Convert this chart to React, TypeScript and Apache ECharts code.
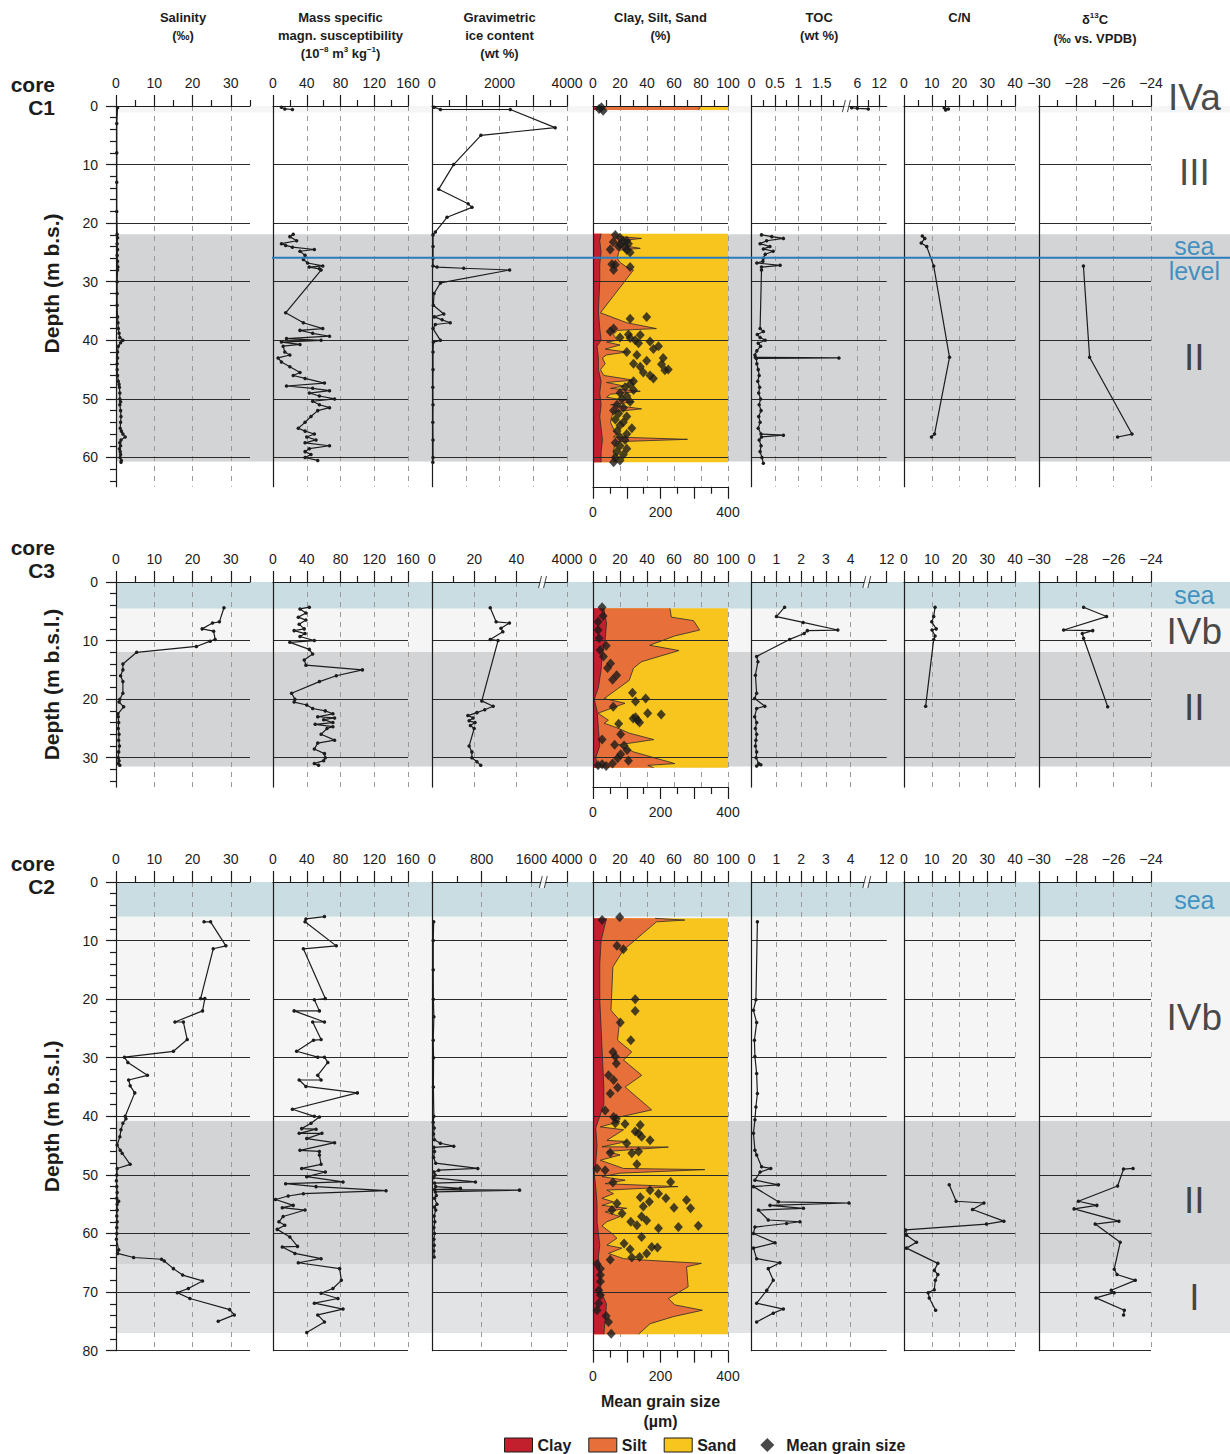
import React, { useEffect, useRef } from 'react';
import * as echarts from 'echarts';

// ======================= DATA (depth m, value) =======================
// ---- core C1 ----
const C1_SALINITY = [[0.3,0.4],[3,0.2],[8,0.2],[13,0.2],[18,0.2],[21.9,0.3],[22.5,0.4],[23.5,0.3],[24.5,0.4],[25.5,0.3],[26.5,0.4],[27.5,0.5],[28,0.4],[30,0.3],[32,0.3],[34,0.3],[36,0.4],[37,0.5],[38,0.6],[38.8,0.8],[39.5,1.0],[40,1.8],[40.4,1.2],[41,0.6],[42,0.4],[43,0.4],[44,0.3],[45,0.3],[46,0.4],[47,0.6],[47.5,0.8],[48,0.9],[49,1.0],[50,1.0],[50.5,1.2],[51,1.0],[52,1.2],[53,1.3],[54,1.2],[55,1.1],[55.5,1.4],[56,1.8],[56.5,2.4],[57,1.3],[57.5,1.0],[58,1.2],[58.5,0.9],[59,1.1],[59.5,1.2],[60,1.1],[60.5,1.4],[60.8,1.3]];
const C1_MAGSUS = [[0.2,10],[0.5,14],[0.6,23],null,[21.9,24],[22.3,20],[23,28],[23.5,10],[23.8,15],[24.1,23],[24.5,49],[24.8,32],[25.5,38],[26.2,36],[26.8,41],[27.3,59],[27.5,43],[27.8,55],[28,57],[35.3,15],[37,36],[38,59],[38.3,32],[38.8,47],[39.3,67],[39.7,16],[40,57],[40.3,10],[40.7,32],[41,12],[42,14],[42.5,20],[43,6],[43.7,10],[44.5,20],[45.5,32],[46,24],[46.5,38],[47.3,61],[47.8,16],[48.2,47],[48.6,67],[49,43],[49.5,55],[50,73],[50.4,47],[51,55],[51.5,67],[52,53],[53,45],[54,38],[55,30],[55.5,38],[56,49],[56.5,40],[57,51],[57.5,38],[58,67],[58.5,43],[59,38],[59.5,45],[60,38],[60.5,53]];
const C1_ICE = [[0.2,60],[0.6,250],[0.6,2320],[3.7,3650],[5,1450],[10,640],[14.2,200],[16.7,1070],[17.3,1185],[19,445],[21.5,100],[22,30],[24,30],[26,30],[27.3,30],[27.5,150],[27.7,940],[28,2300],[30.2,250],[32,60],[34,40],[35.5,350],[36,70],[36.5,300],[37,540],[37.3,100],[38,30],[40,250],[40.3,40],[42,30],[45,30],[48,25],[51,30],[54,25],[57,30],[60,30],[60.8,25]];
const C1_CLAY_TOP = [[0,6],[0.7,6]];
const C1_FINES_TOP = [[0,80],[0.7,78]];
const C1_CLAY = [[21.8,6],[23,5],[25,6],[27,5],[30,5],[35,4],[38,5],[40,6],[41,3],[43,4],[45,4],[47,6],[49,5],[51,6],[53,5],[55,6],[57,7],[59,6],[60.8,6]];
const C1_FINES = [[21.8,16],[22.3,20],[22.6,36],[23,20],[23.5,23],[24,27],[24.3,35],[24.6,20],[25,19],[26,18],[26.7,20],[27.5,25],[28,30],[35.3,5.5],[37,25],[38,47],[38.3,18],[39,15],[40,18],[40.3,10],[40.8,20],[41.5,9],[42,25],[42.5,10],[43,7],[44,9],[45,5.5],[46,8],[46.8,30],[47.2,10],[47.8,23],[48.2,13],[48.7,35],[49.2,13],[49.7,10],[50.5,30],[51,13],[51.7,36],[52.2,15],[53,14],[54,13],[55,15],[56,18],[56.5,15],[56.9,70],[57.3,18],[58,16],[59,15],[60,16],[60.8,18]];
const C1_GRAIN = [[0.2,25],[0.5,18],[0.8,30],[22,66],[22.5,80],[23,100],[23.1,90],[23.2,60],[23.5,105],[23.6,80],[24,76],[24.1,95],[24.5,51],[24.6,100],[25,110],[27,56],[27.1,66],[27.5,110],[28,61],[36,159],[36.3,110],[38,61],[38.5,51],[39,105],[39.1,140],[39.5,80],[39.6,110],[40,125],[40.2,169],[40.5,135],[41,194],[41.5,179],[42,100],[42.5,130],[43,208],[43.5,159],[44,120],[44.1,203],[44.5,140],[45,223],[45.1,213],[45.5,149],[46,169],[46.5,179],[47,120],[47.5,110],[48,95],[48.5,120],[49,80],[49.5,100],[50,85],[50.5,110],[51,71],[51.5,90],[52,61],[52.5,76],[53,100],[53.5,66],[54,90],[54.5,80],[55,115],[55.5,71],[56,100],[56.5,80],[57,95],[57.5,66],[58,80],[58.5,100],[59,71],[59.5,90],[60,66],[60.5,80],[60.8,61]];
const C1_TOC = [[0.3,5],[0.4,6],[0.5,9],null,[22,0.21],[22.3,0.43],[22.6,0.68],[23,0.32],[23.5,0.18],[24,0.39],[24.4,0.25],[24.8,0.46],[25.3,0.29],[26,0.25],[26.5,0.24],[26.8,0.11],[27.2,0.61],[27.5,0.21],[28,0.21],[38,0.18],[38.5,0.25],[39,0.12],[39.5,0.18],[40,0.29],[40.5,0.14],[41,0.19],[41.8,0.11],[42.5,0.07],[42.9,0.08],[43,2.74],[43.1,0.1],[44,0.11],[45,0.14],[46,0.16],[47,0.13],[48,0.17],[49,0.15],[50,0.19],[51,0.16],[52,0.2],[53,0.15],[54,0.18],[55,0.14],[56,0.2],[56.2,0.68],[56.5,0.21],[57,0.16],[58,0.2],[59,0.18],[60,0.22],[61,0.25]];
const C1_CN = [[0.3,14.5],[0.5,16],[0.7,15],null,[22.2,6.6],[22.6,7.5],[23.4,6.2],[24,8.2],[27.3,10.7],[42.9,16.4],[56,11],[56.5,9.9]];
const C1_D13C = [[27.3,-27.62],[42.9,-27.29],[56,-25.02],[56.5,-25.79]];

// ---- core C3 ----
const C3_SALINITY = [[4.4,28.2],[6.8,27.0],[7.0,25.2],[8.0,22.5],[8.4,25.5],[9.8,25.9],[10.1,24.6],[11,21],[12,5.4],[14,1.8],[15,1.8],[16,1.2],[17,1.8],[19,1.8],[20,1.0],[20.5,0.8],[21.3,2.0],[22.5,0.5],[23,0.6],[24,0.7],[25,0.6],[26,0.8],[27,0.7],[28,0.9],[29,0.7],[30,0.6],[30.5,0.8],[31,0.6],[31.3,1.0]];
const C3_MAGSUS = [[4.3,43],[4.6,32],[5.3,39],[6,30],[6.5,39],[7.2,31],[8,37],[8.3,25],[8.8,38],[9.3,32],[10,49],[10.3,20],[11.5,43],[12.3,47],[13.3,37],[14.2,39],[15,106],[16,75],[17,55],[19,22],[20,26],[20.5,25],[21,40],[21.6,47],[22,62],[22.5,71],[23,53],[23.2,73],[23.5,60],[24,71],[24.3,50],[24.7,71],[25,64],[26,57],[27,73],[27.5,53],[28.5,49],[29.3,61],[30,62],[30.5,60],[31,49],[31.3,54]];
const C3_ICE = [[4.4,27.6],[6.8,30.4],[7,36.7],[7.9,32.7],[8.5,33.6],[9.8,27.6],[10,31.3],[20.3,23.6],[21.2,29],[21.8,25],[22.3,21.3],[22.8,17],[23.2,19.5],[23.7,17.6],[24,20.4],[24.5,18.2],[25,20],[28,17.6],[29,18.9],[30,18.9],[30.7,21.3],[31.3,23.1]];
const C3_CLAY = [[4.5,8],[7,10],[10,9],[12,7],[15,6],[18,4],[20,1],[22,3],[25,4],[28,5],[30,2],[31.7,4]];
const C3_FINES = [[4.5,57],[6.0,58],[6.6,74.5],[8.2,79],[9.2,60.6],[10.8,42],[11.7,63.7],[13.6,36],[14.7,30],[16.8,26.8],[19.9,8.3],[20.7,23.7],[22.4,3.7],[23.6,11.4],[24.1,8.3],[25.0,19],[25.8,26.8],[26.9,45],[27.8,19],[29.0,30],[31.0,60.6],[31.3,40.6],[31.7,45]];
const C3_GRAIN = [[4.3,27],[5.8,30],[6.8,15],[8.2,15],[9.6,18],[10.9,39],[11.6,21],[12.7,31],[13.9,52],[14.7,43],[15.9,70],[16.7,58],[18.9,117],[19.9,156],[20.4,126],[21.3,60],[22.4,162],[22.6,202],[23.1,126],[23.3,119],[23.6,132],[24.0,138],[24.2,76],[26.0,82],[26.9,27],[27.8,64],[27.9,92],[28.7,101],[29.4,82],[30.1,73],[30.5,105],[31.0,58],[31.1,27],[31.3,15],[31.4,39]];
const C3_TOC = [[4.3,1.33],[5.9,1.0],[6.9,2.08],[8.2,3.48],[8.3,2.25],[8.8,2.12],[9.8,1.53],[12.7,0.2],[13.6,0.25],[15.9,0.15],[19,0.2],[19.9,0.12],[21.2,0.53],[21.6,0.2],[23,0.12],[24,0.2],[25,0.15],[26,0.2],[27,0.17],[28,0.15],[29,0.2],[30,0.18],[31,0.28],[31.2,0.37],[31.4,0.2]];
const C3_CN = [[4.3,11.2],[5.9,10.7],[6.8,10],[8.0,11.6],[8.2,10.1],[9.2,11.2],[9.8,10.7],[21.2,7.8]];
const C3_D13C = [[4.3,-27.61],[5.9,-26.38],[8.2,-28.68],[8.3,-27.12],[8.8,-27.68],[9.6,-27.61],[21.3,-26.32]];

// ---- core C2 ----
const C2_SALINITY = [[6.8,23],[6.8,24.7],[10.9,28.7],[11.4,25.4],[19.9,22.1],[19.9,23.2],[22.0,22.6],[23.9,15.4],[23.9,17.6],[26.9,18.6],[28.9,15],[29.9,2.2],[30.8,3.1],[33.0,8.2],[33.8,3.3],[34.8,3.7],[36.0,4.9],[40.0,2.4],[40.4,2.6],[41.2,1.8],[42.3,1.3],[43.5,1.0],[44.9,0.3],[45.8,1.1],[46.3,1.6],[48.2,3.7],[48.9,0.3],[50,0.2],[51,0.1],[52,0.2],[53,0.3],[54,0.2],[54.5,0.7],[55,0.3],[56,0.3],[57,0.2],[58,0.3],[59,0.2],[60,0.2],[61,0.1],[62.8,0.7],[63.4,0.4],[64.1,4.6],[64.4,11.9],[64.7,12.6],[66,15],[67.1,17.4],[68.1,22.6],[69.4,18.9],[70.1,16.0],[71.1,19.3],[73.0,29.7],[73.9,30.9],[75.0,26.7]];
const C2_MAGSUS = [[5.9,61],[6.3,39],[6.8,38],[10.9,75],[11.4,36],[19.9,62],[20.1,49],[22.0,55],[22.0,25],[23.9,61],[23.9,47],[26.9,57],[27.0,48],[28.9,28],[29.9,53],[29.9,61],[30.8,65],[33.0,53],[33.8,57],[33.8,31],[34.9,39],[36.0,100],[38.8,23],[40.0,49],[40.1,55],[41.2,45],[42.1,34],[42.2,51],[42.9,31],[42.9,58],[43.8,40],[44.5,73],[45.8,32],[46.0,55],[46.6,55],[48.2,57],[48.9,34],[49.5,62],[50.3,40],[51.2,83],[51.5,15],[52.0,51],[52.7,134],[53.2,36],[53.6,18],[54.2,3],[55.2,24],[55.6,11],[56.0,38],[57.1,12],[58.0,7],[58.6,14],[59.3,5],[60.6,20],[62.2,29],[62.3,11],[63.4,26],[64.3,57],[65.0,30],[66.0,79],[68.0,81],[69.4,71],[70.2,57],[71.1,77],[71.9,49],[72.9,83],[73.9,53],[75.1,61],[76.9,40]];
const C2_ICE = [[6.8,27],[10,20],[15,20],[20,22],[23,30],[27,20],[30,25],[35,22],[40,30],[41,20],[42,35],[43,25],[44,40],[44.6,135],[45.1,350],[45.3,30],[46,40],[47,25],[48,60],[48.9,737],[49.2,107],[49.5,30],[50,50],[50.5,25],[51.2,700],[51.4,40],[52,60],[52.3,457],[52.5,40],[52.6,1409],[52.9,54],[53.5,70],[54,40],[55,80],[55.5,40],[56,60],[57,35],[58,45],[59,30],[60,40],[61,30],[62,35],[63,30],[64,35]];
const C2_CLAY = [[6.2,10],[10,6],[14,5],[20,5],[25,6],[30,7],[35,8],[38,8],[40,5],[42,2],[45,3],[48,2],[50,1],[52,2],[55,3],[58,3],[60,4],[62,5],[64,4],[66,5],[70,6],[72,10],[75,9],[77.2,8]];
const C2_FINES = [[6.2,46],[6.5,68],[6.8,47],[11.6,22.6],[14.5,14.7],[21.9,13.3],[23.6,19.7],[27,18.2],[29,28.7],[30.4,22.6],[33,36.1],[35,23.8],[38.9,43.5],[40.1,20],[40.6,15],[40.9,20],[41.8,5.4],[42.3,22.6],[44.1,10.3],[44.3,25],[45.2,6.6],[45.25,55.8],[46,10.3],[46.6,20],[47.5,5.4],[48.9,22.6],[49.1,82.8],[49.7,20],[50.3,6.6],[50.9,23.8],[51.5,9],[52,63],[52.6,10.3],[53.2,15.2],[54,6.6],[54.6,15.2],[55.2,6.6],[55.7,25],[56.3,9],[57.1,20],[58,10.3],[58.7,6.6],[60,14],[60.8,17.7],[62,10.3],[62.5,21.4],[63.4,11.5],[64.3,22.6],[64.5,34.9],[65.1,80.3],[65.7,69.3],[69.1,70.5],[71.1,55.8],[72.2,60.7],[73.1,81],[74.2,59.5],[75.4,42.3],[77.2,33.7]];
const C2_GRAIN = [[6.0,79],[6.5,27],[10.9,71],[11.5,90],[20.0,125],[22.0,125],[24.0,81],[27.0,112],[29.0,59],[29.8,66],[31.0,69],[33.0,46],[33.8,61],[35.1,73],[36.1,51],[39.0,36],[40.1,61],[40.4,69],[41.2,66],[41.3,95],[41.5,140],[42.6,125],[42.9,135],[43.5,144],[44.1,169],[44.6,100],[46.0,135],[46.2,51],[46.3,115],[48.2,130],[48.9,12],[49.2,36],[51.2,230],[51.3,59],[52.6,169],[53.2,194],[53.8,140],[54.0,216],[54.3,277],[54.6,167],[54.9,71],[55.4,149],[55.6,240],[55.7,289],[56.0,56],[56.6,86],[57.1,144],[57.8,159],[58.0,112],[58.6,130],[58.7,312],[58.9,253],[59.1,194],[60.6,144],[61.7,92],[62.3,174],[62.4,191],[62.7,110],[63.4,159],[64.0,138],[64.1,115],[64.5,51],[65.2,12],[66.0,22],[67.1,22],[68.2,22],[69.7,17],[70.5,22],[71.9,17],[73.1,12],[74.1,39],[75.1,46],[77.1,54]];
const C2_TOC = [[6.8,0.23],[20.1,0.17],[21.9,0.07],[24.0,0.2],[27.0,0.11],[29.8,0.13],[32.7,0.2],[36.1,0.23],[38.4,0.17],[40.6,0.13],[42.9,0.07],[45.8,0.13],[46.6,0.2],[48.6,0.4],[48.9,0.77],[49.5,0.34],[50.9,0.13],[51.7,1.08],[52.0,0.07],[54.6,1.08],[54.8,3.93],[55.2,0.74],[55.7,2.09],[56.0,0.27],[57.7,0.67],[58.0,1.95],[58.3,1.41],[58.9,0.13],[60.0,0.07],[61.6,0.94],[62.5,0.07],[64.3,0.2],[65.0,1.14],[66.0,0.67],[68.0,0.87],[69.7,0.61],[71.9,0.2],[72.9,1.28],[73.6,0.87],[75.1,0.2]];
const C2_CN = [[51.7,16.3],[54.5,18.8],[54.8,28.8],[55.9,24.7],[57.9,36],[58.4,29.7],[59.4,0.6],[60.3,0.9],[61.5,4.5],[62.5,0.9],[65.1,12.2],[66.3,10.9],[67.0,12.2],[68.0,11.3],[69.6,10.9],[70.1,8.7],[71.0,9.1],[73.1,11.4]];
const C2_D13C = [[48.9,-24.96],[49.0,-25.47],[51.9,-25.79],[54.5,-27.89],[55.2,-26.9],[55.8,-28.12],[57.9,-25.72],[58.4,-26.99],[61.5,-25.65],[66.1,-25.97],[67.0,-25.82],[68.0,-24.84],[69.7,-26.13],[70.1,-25.97],[71.0,-26.95],[73.1,-25.43],[73.9,-25.47]];

// ---- stratigraphic units: [from depth, to depth, kind] ----
const C1_UNITS = [[0, 1.1, 'light'], [21.9, 60.7, 'gray']];
const C3_UNITS = [[0, 4.55, 'sea'], [4.55, 11.95, 'light'], [11.95, 31.5, 'gray']];
const C2_UNITS = [[0, 5.92, 'sea'], [5.92, 40.8, 'light'], [40.8, 65.2, 'gray'], [65.2, 77.0, 'pale']];
const C1_UNIT_NAMES = [['IVa', -1.4], ['III', 11.3], ['sea', 23.9], ['level', 28.2], ['II', 43]];
const C3_UNIT_NAMES = [['sea', 2.2], ['IVb', 8.5], ['II', 21.5]];
const C2_UNIT_NAMES = [['sea', 3.1], ['IVb', 23.2], ['II', 54.3], ['I', 70.9]];
const C1_SEA_LEVEL = 25.9;

// ---- axis ticks ----
const SAL_TICKS = { min: 0, max: 35, major: [0, 10, 20, 30], minor: [5, 15, 25, 35], labels: [0, 10, 20, 30], dashed: [10, 20, 30] };
const MAG_TICKS = { min: 0, max: 160, major: [0, 40, 80, 120, 160], minor: [20, 60, 100, 140], labels: [0, 40, 80, 120, 160], dashed: [40, 80, 120, 160] };
const ICE_C1_TICKS = { min: 0, max: 4000, major: [0, 1000, 2000, 3000, 4000], minor: [500, 1500, 2500, 3500], labels: [0, 2000, 4000], dashed: [1000, 2000, 3000, 4000] };
const ICE_C3_TICKS = { min: 0, max: 64, knots: [[0, 0], [40, 40], [4000, 64]], brk: 52.4, major: [0, 20, 40, 4000], minor: [10, 30], labels: [0, 20, 40, 4000], dashed: [20, 40, 4000] };
const ICE_C2_TICKS = { min: 0, max: 2174, knots: [[0, 0], [1600, 1600], [4000, 2174]], brk: 1792, major: [0, 800, 1600, 4000], minor: [400, 1200], labels: [0, 800, 1600, 4000], dashed: [800, 1600, 4000] };
const CLAY_TICKS = { min: 0, max: 100, major: [0, 20, 40, 60, 80, 100], minor: [10, 30, 50, 70, 90], labels: [0, 20, 40, 60, 80, 100], dashed: [20, 40, 60, 80, 100] };
const TOC_C1_TICKS = { min: 0, max: 2.893, knots: [[0, 0], [1.75, 1.75], [6, 2.263], [12, 2.734]], brk: 2.03, major: [0, 0.5, 1, 1.5, 6, 12], minor: [0.25, 0.75, 1.25, 1.75, 9], labels: [0, 0.5, 1, 1.5, 6, 12], dashed: [0.5, 1, 1.5, 6, 12] };
const TOC_TICKS = { min: 0, max: 5.455, knots: [[0, 0], [4, 4], [12, 5.455]], brk: 4.65, major: [0, 1, 2, 3, 4, 12], minor: [0.5, 1.5, 2.5, 3.5], labels: [0, 1, 2, 3, 4, 12], dashed: [1, 2, 3, 4, 12] };
const CN_TICKS = { min: 0, max: 40, major: [0, 10, 20, 30, 40], minor: [5, 15, 25, 35], labels: [0, 10, 20, 30, 40], dashed: [10, 20, 30, 40] };
const D13C_TICKS = { min: -30, max: -24, major: [-30, -28, -26, -24], minor: [-29, -27, -25], labels: [-30, -28, -26, -24], dashed: [-28, -26, -24] };
const GRAIN_TICKS = { min: 0, max: 400, major: [0, 100, 200, 300, 400], minor: [50, 150, 250, 350], labels: [0, 200, 400] };

const HEADERS = [
  ['Salinity', '(‰)'],
  ['Mass specific', 'magn. susceptibility', '(10{sup|−8} m{sup|3} kg{sup|−1})'],
  ['Gravimetric', 'ice content', '(wt %)'],
  ['Clay, Silt, Sand', '(%)'],
  ['TOC', '(wt %)'],
  ['C/N'],
  ['δ{sup|13}C', '(‰ vs. VPDB)'],
];

// ======================= LAYOUT / STYLE =======================
const FONT = "'Liberation Sans', Arial, Helvetica, sans-serif";
const INK = '#1c1c1c';
const COLORS: Record<string, string> = {
  clay: '#c3202e', silt: '#e7703a', sand: '#f7c51d',
  sea: '#c9dde2', light: '#f5f5f5', gray: '#d3d4d6', pale: '#e2e3e5',
  blue: '#2a7dbd', blueText: '#1a7db8',
};
const PX_PER_M = 5.858;
const PANEL_LEFT = [116, 273, 432, 593, 751.7, 904, 1039];
const PANEL_WIDTH = [134, 135, 135, 135, 135, 111, 112];
const BG_LEFT = 116;
const BG_RIGHT = 1230;
const SEA_LINE_START = 0.14;
const UNIT_LABEL_X = 0.968;
const HEADER_Y = [17, 35, 53];
// diamond drawn inside a 28x14 box so that the legend keeps its square shape
const LEGEND_DIAMOND = 'path://M0,7 L0.01,7 M14,0 L21,7 L14,14 L7,7 Z M27.99,7 L28,7';

const ROWS = [
  {
    top: 106, maxDepth: 65, yName: 'Depth (m b.s.)', yNamePad: 26, core: 'core\nC1', coreY: 96,
    hlines: [10, 20, 30, 40, 50, 60], units: C1_UNITS, names: C1_UNIT_NAMES, seaLevel: C1_SEA_LEVEL,
    panels: [
      { ticks: SAL_TICKS, profile: C1_SALINITY },
      { ticks: MAG_TICKS, profile: C1_MAGSUS },
      { ticks: ICE_C1_TICKS, profile: C1_ICE },
      { ticks: CLAY_TICKS, segs: [[C1_CLAY_TOP, C1_FINES_TOP], [C1_CLAY, C1_FINES]], mean: C1_GRAIN },
      { ticks: TOC_C1_TICKS, profile: C1_TOC },
      { ticks: CN_TICKS, profile: C1_CN },
      { ticks: D13C_TICKS, profile: C1_D13C },
    ],
  },
  {
    top: 582, maxDepth: 35, yName: 'Depth (m b.s.l.)', yNamePad: 0, core: 'core\nC3', coreY: 558.5,
    hlines: [10, 20, 30], units: C3_UNITS, names: C3_UNIT_NAMES, seaLevel: null,
    panels: [
      { ticks: SAL_TICKS, profile: C3_SALINITY },
      { ticks: MAG_TICKS, profile: C3_MAGSUS },
      { ticks: ICE_C3_TICKS, profile: C3_ICE },
      { ticks: CLAY_TICKS, segs: [[C3_CLAY, C3_FINES]], mean: C3_GRAIN },
      { ticks: TOC_TICKS, profile: C3_TOC },
      { ticks: CN_TICKS, profile: C3_CN },
      { ticks: D13C_TICKS, profile: C3_D13C },
    ],
  },
  {
    top: 882, maxDepth: 80, yName: 'Depth (m b.s.l.)', yNamePad: 0, core: 'core\nC2', coreY: 874.5,
    hlines: [10, 20, 30, 40, 50, 60, 70, 80], units: C2_UNITS, names: C2_UNIT_NAMES, seaLevel: null,
    grainName: 'Mean grain size\n(µm)',
    panels: [
      { ticks: SAL_TICKS, profile: C2_SALINITY },
      { ticks: MAG_TICKS, profile: C2_MAGSUS },
      { ticks: ICE_C2_TICKS, profile: C2_ICE },
      { ticks: CLAY_TICKS, segs: [[C2_CLAY, C2_FINES]], mean: C2_GRAIN },
      { ticks: TOC_TICKS, profile: C2_TOC },
      { ticks: CN_TICKS, profile: C2_CN },
      { ticks: D13C_TICKS, profile: C2_D13C },
    ],
  },
];

function makeFwd(knots?: number[][]) {
  if (!knots) return (v: number) => v;
  return (v: number) => {
    for (let i = 0; i < knots.length - 1; i++) {
      const [v0, d0] = knots[i];
      const [v1, d1] = knots[i + 1];
      if (v <= v1 || i === knots.length - 2) return d0 + ((v - v0) * (d1 - d0)) / (v1 - v0);
    }
    return v;
  };
}
const fmt = (v: number) => (v < 0 ? '\u2212' + Math.abs(v) : String(v));
const depthMajor = (max: number) => { const a: number[] = []; for (let d = 0; d <= max; d += 10) a.push(d); return a; };
const depthMinor = (max: number) => { const a: number[] = []; for (let d = 2; d < max; d += 2) if (d % 10 !== 0) a.push(d); return a; };

function buildOption() {
  const grid: any[] = [];
  const xAxis: any[] = [];
  const yAxis: any[] = [];
  const series: any[] = [];
  const graphic: any[] = [];
  const axisLine = { color: INK, width: 1.2 };
  const labelStyle = { fontSize: 14, color: INK, fontFamily: FONT };

  ROWS.forEach((row: any) => {
    const height = row.maxDepth * PX_PER_M;

    // ---------- background grid (units, sea level, unit names) ----------
    const bg = grid.length;
    grid.push({ left: BG_LEFT, top: row.top, width: BG_RIGHT - BG_LEFT, height });
    const bx = xAxis.length;
    xAxis.push({ type: 'value', gridIndex: bg, min: 0, max: 1, show: false });
    const by = yAxis.length;
    yAxis.push({ type: 'value', gridIndex: bg, min: 0, max: row.maxDepth, inverse: true, show: false });
    series.push({
      type: 'scatter', xAxisIndex: bx, yAxisIndex: by, silent: true, z: 0, symbolSize: 0,
      data: [[0.5, row.maxDepth / 2]], itemStyle: { color: 'rgba(0,0,0,0)' },
      markArea: {
        silent: true, z: 0,
        data: row.units.map(([a, b, k]: any) => [{ yAxis: a, itemStyle: { color: COLORS[k] } }, { yAxis: b }]),
      },
    });
    if (row.seaLevel != null) {
      series.push({
        type: 'line', xAxisIndex: bx, yAxisIndex: by, silent: true, z: 8, symbol: 'none',
        data: [[SEA_LINE_START, row.seaLevel], [1, row.seaLevel]],
        lineStyle: { color: COLORS.blue, width: 2 },
      });
    }
    series.push({
      type: 'scatter', xAxisIndex: bx, yAxisIndex: by, silent: true, z: 8, clip: false, symbolSize: 1,
      itemStyle: { color: 'rgba(0,0,0,0)' },
      label: { show: true, position: 'inside', formatter: '{b}', fontFamily: FONT },
      data: row.names.map(([name, d]: any) => ({
        name, value: [UNIT_LABEL_X, d],
        label: name === 'sea' || name === 'level'
          ? { fontSize: 25, color: COLORS.blueText }
          : { fontSize: 37, color: '#1a1a1a' },
      })),
    });

    // core label
    graphic.push({
      type: 'text', x: 55, y: row.coreY, z: 10,
      style: { text: row.core, align: 'right', textAlign: 'right', verticalAlign: 'middle', textVerticalAlign: 'middle', fontSize: 21, fontWeight: 'bold', fontFamily: FONT, fill: INK, lineHeight: 23 },
    });

    // ---------- panels ----------
    row.panels.forEach((p: any, pi: number) => {
      const g = grid.length;
      grid.push({ left: PANEL_LEFT[pi], top: row.top, width: PANEL_WIDTH[pi], height });
      const s = p.ticks;
      const fwd = makeFwd(s.knots);
      const labelText = new Map<string, string>(s.labels.map((v: number) => [fwd(v).toFixed(5), fmt(v)]));
      const xi = xAxis.length;
      xAxis.push({
        type: 'value', gridIndex: g, position: 'top', min: s.min, max: s.max, z: 4,
        axisLine: { show: true, onZero: false, lineStyle: axisLine },
        axisTick: { show: true, length: 11, customValues: s.major.map(fwd), lineStyle: axisLine },
        axisLabel: { show: true, customValues: s.labels.map(fwd), formatter: (v: number) => labelText.get(v.toFixed(5)) ?? '', margin: 16, ...labelStyle },
        splitLine: { show: false },
      });
      xAxis.push({
        type: 'value', gridIndex: g, position: 'top', min: s.min, max: s.max, z: 4,
        axisLine: { show: false, onZero: false }, axisLabel: { show: false }, splitLine: { show: false },
        axisTick: { show: true, length: 6, customValues: s.minor.map(fwd), lineStyle: axisLine },
      });
      const first = pi === 0;
      const yi = yAxis.length;
      yAxis.push({
        type: 'value', gridIndex: g, min: 0, max: row.maxDepth, inverse: true, position: 'left', z: 4,
        axisLine: { show: true, onZero: false, lineStyle: axisLine },
        axisTick: { show: first, length: 10, customValues: depthMajor(row.maxDepth), lineStyle: axisLine },
        axisLabel: { show: first, customValues: depthMajor(row.maxDepth), margin: 18, ...labelStyle },
        splitLine: { show: false },
        name: first ? row.yName : '', nameLocation: 'middle', nameRotate: 90, nameGap: 54,
        nameTextStyle: { fontSize: 21, fontWeight: 'bold', color: INK, fontFamily: FONT, padding: [0, 0, 0, row.yNamePad] },
      });
      if (first) {
        yAxis.push({
          type: 'value', gridIndex: g, min: 0, max: row.maxDepth, inverse: true, position: 'left', z: 4,
          axisLine: { show: false, onZero: false }, axisLabel: { show: false }, splitLine: { show: false },
          axisTick: { show: true, length: 6, customValues: depthMinor(row.maxDepth), lineStyle: axisLine },
        });
      }

      // dashed vertical lines
      series.push({
        type: 'scatter', xAxisIndex: xi, yAxisIndex: yi, silent: true, z: 1, symbolSize: 0,
        data: [[fwd(s.labels[0]), 0]], itemStyle: { color: 'rgba(0,0,0,0)' },
        markLine: {
          silent: true, z: 1, symbol: ['none', 'none'], label: { show: false },
          lineStyle: { color: '#9a9a9a', type: [5, 5], width: 1 },
          data: s.dashed.map((v: number) => ({ xAxis: fwd(v) })),
        },
      });
      // horizontal depth lines
      series.push({
        type: 'scatter', xAxisIndex: xi, yAxisIndex: yi, silent: true, z: 3, symbolSize: 0,
        data: [[fwd(s.labels[0]), 0]], itemStyle: { color: 'rgba(0,0,0,0)' },
        markLine: {
          silent: true, z: 3, symbol: ['none', 'none'], label: { show: false },
          lineStyle: { color: '#2a2a2a', type: 'solid', width: 1 },
          data: row.hlines.map((d: number) => ({ yAxis: d })),
        },
      });

      if (p.profile) {
        series.push({
          type: 'line', xAxisIndex: xi, yAxisIndex: yi, silent: true, z: 5, clip: false,
          data: p.profile.map((pt: any) => (pt ? [fwd(pt[1]), pt[0]] : ['-', '-'])),
          symbol: 'circle', symbolSize: 3.5, showSymbol: true,
          lineStyle: { color: INK, width: 1.2 }, itemStyle: { color: INK },
          connectNulls: false,
        });
      }

      if (s.brk != null) {
        series.push({
          type: 'scatter', xAxisIndex: xi, yAxisIndex: yi, silent: true, z: 7, clip: false,
          data: [
            { value: [s.brk, 0], symbol: 'path://M3,0 L8,0 L5,12 L0,12 Z', symbolSize: [8, 12], itemStyle: { color: '#ffffff', borderWidth: 0 } },
            { value: [s.brk, 0], symbol: 'path://M0,12 L3,0 M5,12 L8,0', symbolSize: [8, 12], itemStyle: { color: 'none', borderColor: INK, borderWidth: 1.2 } },
          ],
        });
      }

      if (p.segs) {
        const segs = p.segs;
        const mk = (name: string, key: string, which: number | null) => ({
          type: 'custom', name, xAxisIndex: xi, yAxisIndex: yi, silent: true, z: 2,
          itemStyle: { color: COLORS[key] },
          data: segs.map((_: any, i: number) => [i, 0]),
          renderItem: (params: any, api: any) => {
            const seg = segs[params.dataIndex];
            const fines = seg[1];
            const d0 = fines[0][0];
            const d1 = fines[fines.length - 1][0];
            if (which === null) {
              return {
                type: 'polygon',
                shape: { points: [api.coord([0, d0]), api.coord([100, d0]), api.coord([100, d1]), api.coord([0, d1])] },
                style: { fill: COLORS[key] },
              };
            }
            const prof = seg[which];
            const edge = prof.map(([d, v]: number[]) => api.coord([v, d]));
            const top = prof[0][0];
            const bot = prof[prof.length - 1][0];
            return {
              type: 'group',
              children: [
                { type: 'polygon', shape: { points: [api.coord([0, top]), ...edge, api.coord([0, bot])] }, style: { fill: COLORS[key] } },
                { type: 'polyline', shape: { points: edge }, style: { stroke: '#2a2a2a', lineWidth: 0.8, fill: null } },
              ],
            };
          },
        });
        series.push(mk('Sand', 'sand', null));
        series.push(mk('Silt', 'silt', 1));
        series.push(mk('Clay', 'clay', 0));

        // bottom grain-size axis
        const gx = xAxis.length;
        xAxis.push({
          type: 'value', gridIndex: g, position: 'bottom', min: GRAIN_TICKS.min, max: GRAIN_TICKS.max, z: 4,
          axisLine: { show: true, onZero: false, lineStyle: axisLine },
          axisTick: { show: true, length: 12, customValues: GRAIN_TICKS.major, lineStyle: axisLine },
          axisLabel: { show: true, customValues: GRAIN_TICKS.labels, margin: 18, ...labelStyle },
          splitLine: { show: false },
          name: row.grainName || '', nameLocation: 'middle', nameGap: 41,
          nameTextStyle: { fontSize: 16, fontWeight: 'bold', color: INK, fontFamily: FONT, lineHeight: 20 },
        });
        xAxis.push({
          type: 'value', gridIndex: g, position: 'bottom', min: GRAIN_TICKS.min, max: GRAIN_TICKS.max, z: 4,
          axisLine: { show: false, onZero: false }, axisLabel: { show: false }, splitLine: { show: false },
          axisTick: { show: true, length: 7, customValues: GRAIN_TICKS.minor, lineStyle: axisLine },
        });
        series.push({
          type: 'scatter', name: 'Mean grain size', xAxisIndex: gx, yAxisIndex: yi, silent: true, z: 6, clip: false,
          symbol: 'diamond', symbolSize: [9, 10], itemStyle: { color: INK },
          data: p.mean.map(([d, v]: number[]) => [v, d]),
        });
      }
    });
  });

  // ---------- column headers ----------
  HEADERS.forEach((lines, i) => {
    const cx = PANEL_LEFT[i] + PANEL_WIDTH[i] / 2;
    lines.forEach((line, li) => {
      const y = i === 6 ? [19, 38][li] : HEADER_Y[li];
      graphic.push({
        type: 'text', x: cx, y, z: 10,
        style: {
          text: line, align: 'center', textAlign: 'center', verticalAlign: 'middle', textVerticalAlign: 'middle',
          fontSize: 13, fontWeight: 'bold', fontFamily: FONT, fill: INK, lineHeight: 16,
          rich: { sup: { fontSize: 8, fontWeight: 'bold', fontFamily: FONT, fill: INK, verticalAlign: 'top', lineHeight: 16, padding: [0, 0, 6, 0] } },
        },
      });
    });
  });

  return {
    animation: false,
    textStyle: { fontFamily: FONT },
    grid, xAxis, yAxis, series, graphic,
    legend: {
      left: 504, top: 1436, padding: 0, itemWidth: 28, itemHeight: 14, itemGap: 17, selectedMode: false,
      textStyle: { fontSize: 16, fontWeight: 'bold', color: INK, fontFamily: FONT, lineHeight: 18 },
      data: [
        { name: 'Clay', icon: 'rect', itemStyle: { color: COLORS.clay, borderColor: INK, borderWidth: 1 } },
        { name: 'Silt', icon: 'rect', itemStyle: { color: COLORS.silt, borderColor: INK, borderWidth: 1 } },
        { name: 'Sand', icon: 'rect', itemStyle: { color: COLORS.sand, borderColor: INK, borderWidth: 1 } },
        { name: 'Mean grain size', icon: LEGEND_DIAMOND, itemStyle: { color: INK } },
      ],
    },
  };
}

export default function App() {
  const ref = useRef<HTMLDivElement>(null);
  useEffect(() => {
    if (!ref.current) return;
    const chart = echarts.init(ref.current, null, { renderer: 'svg' });
    chart.setOption(buildOption() as any);
    return () => chart.dispose();
  }, []);
  return <div ref={ref} style={{ position: 'absolute', left: 0, top: 0, width: 1230, height: 1454, background: '#fff' }} />;
}
